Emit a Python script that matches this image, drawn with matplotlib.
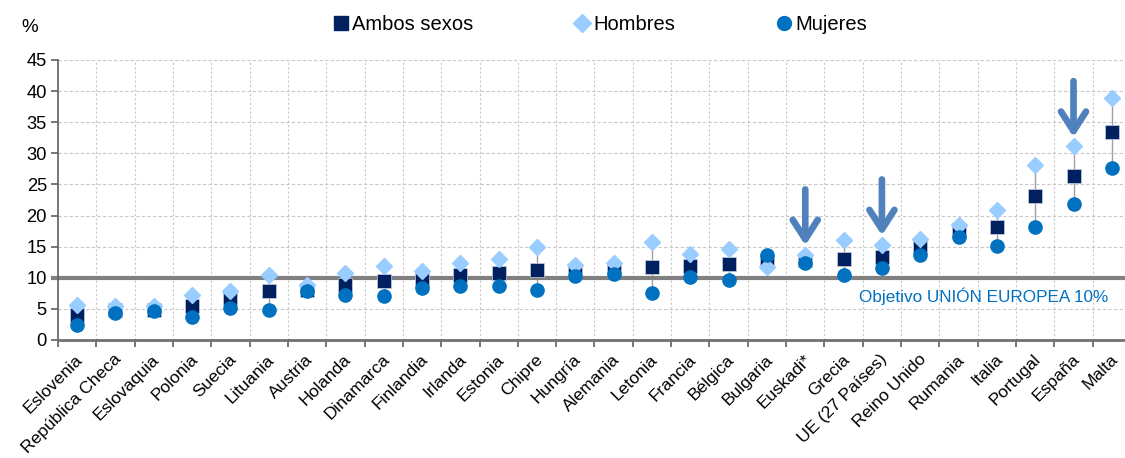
import matplotlib
matplotlib.use("Agg")
import matplotlib.pyplot as plt
import matplotlib.transforms as mtransforms
import numpy as np
from matplotlib.lines import Line2D

plt.rcParams['font.family'] = ['Liberation Sans', 'DejaVu Sans']

paises = ["Eslovenia", "República Checa", "Eslovaquia", "Polonia", "Suecia", "Lituania",
          "Austria", "Holanda", "Dinamarca", "Finlandia", "Irlanda", "Estonia", "Chipre",
          "Hungría", "Alemania", "Letonia", "Francia", "Bélgica", "Bulgaria", "Euskadi*",
          "Grecia", "UE (27 Países)", "Reino Unido", "Rumania", "Italia", "Portugal",
          "España", "Malta"]
ambos = [4.0, 4.8, 4.8, 5.5, 6.7, 7.8, 8.1, 8.8, 9.5, 9.7, 10.4, 10.8, 11.2, 11.1, 11.4,
         11.7, 11.9, 12.2, 12.7, 12.9, 13.0, 13.4, 15.0, 17.7, 18.1, 23.1, 26.4, 33.5]
hombres = [5.6, 5.4, 5.4, 7.2, 7.8, 10.4, 8.8, 10.7, 11.9, 11.1, 12.4, 13.0, 15.0, 12.0,
           12.3, 15.8, 13.8, 14.7, 11.8, 13.7, 16.1, 15.3, 16.2, 18.5, 20.9, 28.1, 31.1, 38.9]
mujeres = [2.4, 4.3, 4.6, 3.7, 5.2, 4.9, 7.8, 7.2, 7.0, 8.3, 8.6, 8.6, 8.0, 10.3, 10.6,
           7.6, 10.2, 9.6, 13.7, 12.4, 10.4, 11.5, 13.7, 16.6, 15.1, 18.1, 21.9, 27.7]
objetivo = 10
destacados = ["Euskadi*", "UE (27 Países)", "España"]

C_AMBOS = "#002060"
C_HOM = "#99CCFF"
C_MUJ = "#0070C0"

fig = plt.figure(figsize=(11.25, 4.58), dpi=100)
ax = fig.add_axes([58/1125, 1-340/458, (1131-58)/1125, (340-60)/458])

x = np.arange(len(paises))
lo = np.minimum(hombres, mujeres)
hi = np.maximum(hombres, mujeres)
ax.vlines(x, lo, hi, color="#A0A0A0", lw=1, zorder=2)

ax.plot(x, ambos, 's', color=C_AMBOS, ms=10, mec="#c8d0e0", mew=0.5, zorder=3, label="Ambos sexos")
ax.plot(x, hombres, 'D', color=C_HOM, ms=8.5, mec=C_HOM, zorder=4, label="Hombres")
ax.plot(x, mujeres, 'o', color=C_MUJ, ms=9.5, mec=C_MUJ, zorder=5, label="Mujeres")

ax.axhline(objetivo, xmin=-0.005, xmax=1, color="#808080", lw=3, zorder=2.5, clip_on=False)
fig.text(1108/1125, 1-296/458, "Objetivo UNIÓN EUROPEA 10%", color=C_MUJ,
         fontsize=12.3, ha='right', va='center')

for name in destacados:
    i = paises.index(name)
    top = max(hombres[i], mujeres[i], ambos[i])
    ax.annotate("", xy=(i, top + 1.5), xytext=(i, top + 10.5),
                arrowprops=dict(arrowstyle="->,head_length=0.7,head_width=0.45",
                                color="#4F81BD", lw=4.8, shrinkA=0, shrinkB=0,
                                mutation_scale=20), zorder=6)

ax.set_xlim(-0.5, len(paises) - 0.5)
ax.set_ylim(0, 45)
ax.set_yticks(np.arange(0, 46, 5))
ax.set_xticks(x)
ax.set_xticklabels(paises, rotation=45, ha='right', rotation_mode='anchor', fontsize=12.6)
ax.set_xticks(np.arange(-0.5, len(paises), 1), minor=True)
ax.tick_params(axis='x', which='major', length=0, pad=8.5)
ax.tick_params(axis='x', which='minor', length=5, width=1.2, color="#606060", direction='out')
ax.tick_params(axis='y', length=5, width=1.2, color="#606060", labelsize=13.2, pad=3)
offset = mtransforms.ScaledTranslation(-2/100, 0, fig.dpi_scale_trans)
for lab in ax.get_xticklabels():
    lab.set_transform(lab.get_transform() + offset)

ax.grid(False)
for v in np.arange(5, 46, 5):
    ax.axhline(v, color="#C8C8C8", lw=0.8, ls=(0, (3, 2)), zorder=0)
for v in np.arange(0.5, len(paises) - 0.5, 1):
    ax.axvline(v, color="#C8C8C8", lw=0.8, ls=(0, (2, 2)), zorder=0)

for s in ['top', 'right']:
    ax.spines[s].set_visible(False)
ax.spines['left'].set_color("#606060")
ax.spines['left'].set_linewidth(1.2)
ax.spines['bottom'].set_color("#707070")
ax.spines['bottom'].set_linewidth(2)

fig.text(30/1125, 1-28/458, "%", fontsize=13.5, ha='center', va='center')

handles = [Line2D([], [], ls='none', marker='s', color=C_AMBOS, ms=10),
           Line2D([], [], ls='none', marker='D', color=C_HOM, ms=9),
           Line2D([], [], ls='none', marker='o', color=C_MUJ, ms=10)]
fig.legend(handles, ["Ambos sexos", "Hombres", "Mujeres"], loc='center',
           bbox_to_anchor=(600/1125, 1-25/458), ncol=3, frameon=False,
           fontsize=14.5, handlelength=0.8, handletextpad=0.15, columnspacing=5.0,
           borderpad=0)

fig.savefig("out.png", dpi=100)
